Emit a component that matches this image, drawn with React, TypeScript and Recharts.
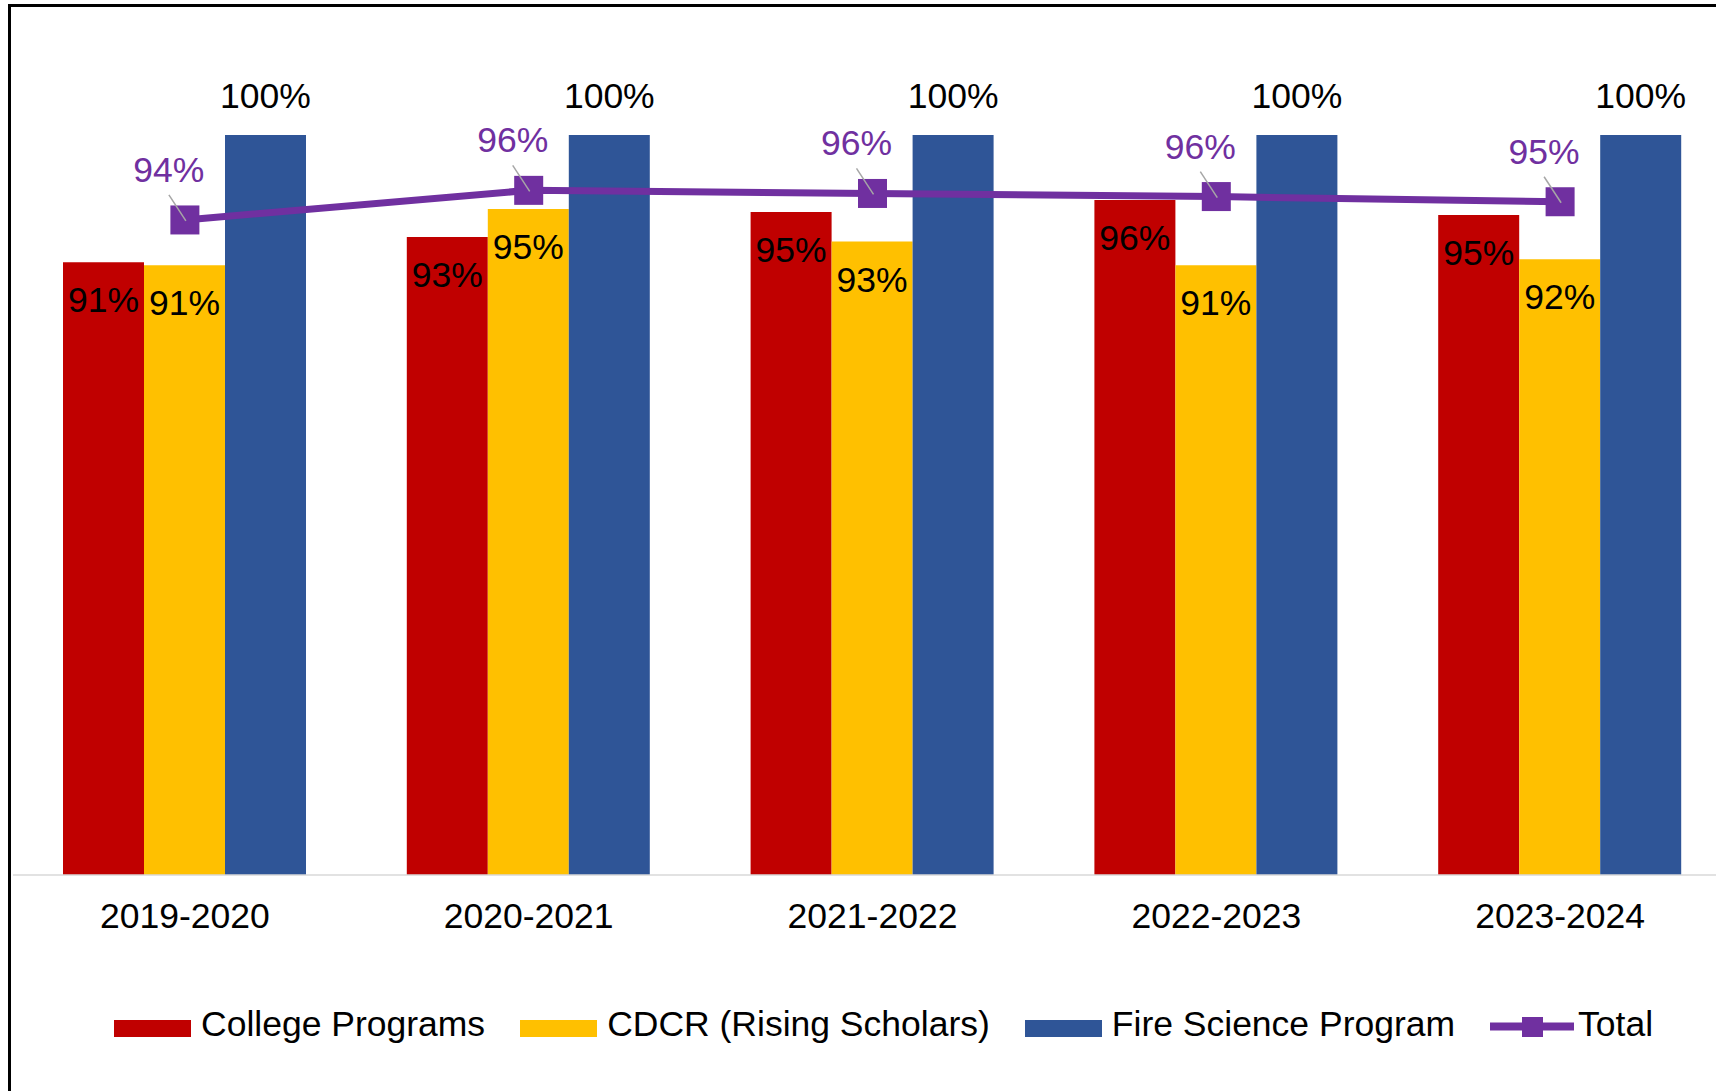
import React from 'react';
import { ComposedChart, Bar, Line, XAxis, YAxis, Legend, LabelList } from 'recharts';

const years = ['2019-2020', '2020-2021', '2021-2022', '2022-2023', '2023-2024'];
const collegePrograms = [0.914, 0.931, 0.948, 0.956, 0.946];
const cdcrRisingScholars = [0.912, 0.95, 0.928, 0.912, 0.916];
const fireScience = [1, 1, 1, 1, 1];
const totalRate = [0.9426, 0.9626, 0.9605, 0.9584, 0.9549];
const seriesNames = ['College Programs', 'CDCR (Rising Scholars)', 'Fire Science Program', 'Total'];
const seriesColors = ['#c00000', '#ffc000', '#2f5597', '#7030a0'];
const yDomain = [0.5, 1];

const data = years.map((year, i) => ({
  year,
  college: collegePrograms[i],
  cdcr: cdcrRisingScholars[i],
  fire: fireScience[i],
  total: totalRate[i],
}));

const FONT = "'Liberation Sans', Arial, sans-serif";
const FS = 35.5;
const pct = (v: number) => `${Math.round(v * 100)}%`;

const InsideTopLabel = (props: any) => {
  const { x, y, width, value } = props;
  return (
    <text x={Number(x) + Number(width) / 2} y={Number(y) + 50} textAnchor="middle" fontSize={FS} fontFamily={FONT} fill="#000">
      {pct(value)}
    </text>
  );
};

const AboveLabel = (props: any) => {
  const { x, y, width, value } = props;
  return (
    <text x={Number(x) + Number(width) / 2} y={Number(y) - 27} textAnchor="middle" fontSize={FS} fontFamily={FONT} fill="#000">
      {pct(value)}
    </text>
  );
};

const TotalLabel = (props: any) => {
  const { x, y, value } = props;
  const lx = Number(x) - 16;
  const ly = Number(y) - 38;
  return (
    <g>
      <text x={lx} y={ly} textAnchor="middle" fontSize={FS} fontFamily={FONT} fill="#7030a0">
        {pct(value)}
      </text>
      <line x1={lx} y1={ly + 13} x2={Number(x) + 1} y2={Number(y) + 1} stroke="#a6a6a6" strokeWidth={1.5} />
    </g>
  );
};

const SquareDot = (props: any) => {
  const { cx, cy, index } = props;
  return <rect key={`dot-${index}`} x={cx - 14.5} y={cy - 14.5} width={29} height={29} fill="#7030a0" />;
};

const YearTick = (props: any) => {
  const { x, y, payload } = props;
  return (
    <text x={x} y={Number(y) + 53} textAnchor="middle" fontSize={FS} fontFamily={FONT} fill="#000">
      {payload.value}
    </text>
  );
};

const CustomLegend = (props: any) => {
  const payload = [...(props.payload || [])].sort(
    (a: any, b: any) => seriesNames.indexOf(a.value) - seriesNames.indexOf(b.value)
  );
  return (
    <div style={{ display: 'flex', alignItems: 'flex-start', paddingLeft: 114, height: 50, fontFamily: FONT, fontSize: FS }}>
      {payload.map((entry: any, i: number) => {
        const isLine = entry.value === seriesNames[3];
        return (
          <div key={`leg-${i}`} style={{ display: 'flex', alignItems: 'flex-start', marginLeft: i === 0 ? 0 : 35 }}>
            {isLine ? (
              <svg width={84} height={20} style={{ marginTop: 13, display: 'block' }}>
                <line x1={0} y1={9.5} x2={84} y2={9.5} stroke={entry.color} strokeWidth={8} />
                <rect x={32} y={0} width={21} height={20} fill={entry.color} />
              </svg>
            ) : (
              <div style={{ width: 77, height: 17, marginTop: 16, background: entry.color }} />
            )}
            <span style={{ marginLeft: isLine ? 4 : 10, lineHeight: '40px', color: '#000', whiteSpace: 'nowrap' }}>{entry.value}</span>
          </div>
        );
      })}
    </div>
  );
};

export default function App() {
  return (
    <div style={{ position: 'fixed', left: 0, top: 0, width: 1716, height: 1091, overflow: 'hidden', background: '#fff' }}>
      <div style={{ position: 'absolute', left: 8, top: 4, width: 1800, height: 1200, border: '3px solid #000', boxSizing: 'border-box' }} />
      <div style={{ position: 'absolute', left: 0, top: 0 }}>
        <ComposedChart
          width={1745}
          height={1091}
          data={data}
          margin={{ top: 135, right: 13, left: 13, bottom: 66 }}
          barCategoryGap={50}
          barGap={0}
        >
          <XAxis
            dataKey="year"
            height={100}
            tickLine={false}
            tickSize={0}
            tickMargin={0}
            interval={0}
            axisLine={{ stroke: '#d9d9d9', strokeWidth: 1.5 }}
            tick={<YearTick />}
          />
          <YAxis hide domain={yDomain} />
          <Legend
            verticalAlign="bottom"
            content={<CustomLegend />}
            wrapperStyle={{ left: 0, top: 1004, width: 1716, height: 50 }}
          />
          <Bar dataKey="college" name={seriesNames[0]} fill={seriesColors[0]} isAnimationActive={false}>
            <LabelList dataKey="college" content={<InsideTopLabel />} />
          </Bar>
          <Bar dataKey="cdcr" name={seriesNames[1]} fill={seriesColors[1]} isAnimationActive={false}>
            <LabelList dataKey="cdcr" content={<InsideTopLabel />} />
          </Bar>
          <Bar dataKey="fire" name={seriesNames[2]} fill={seriesColors[2]} isAnimationActive={false}>
            <LabelList dataKey="fire" content={<AboveLabel />} />
          </Bar>
          <Line
            dataKey="total"
            name={seriesNames[3]}
            stroke={seriesColors[3]}
            strokeWidth={7}
            dot={<SquareDot />}
            activeDot={false}
            legendType="line"
            isAnimationActive={false}
          >
            <LabelList dataKey="total" content={<TotalLabel />} />
          </Line>
        </ComposedChart>
      </div>
    </div>
  );
}
